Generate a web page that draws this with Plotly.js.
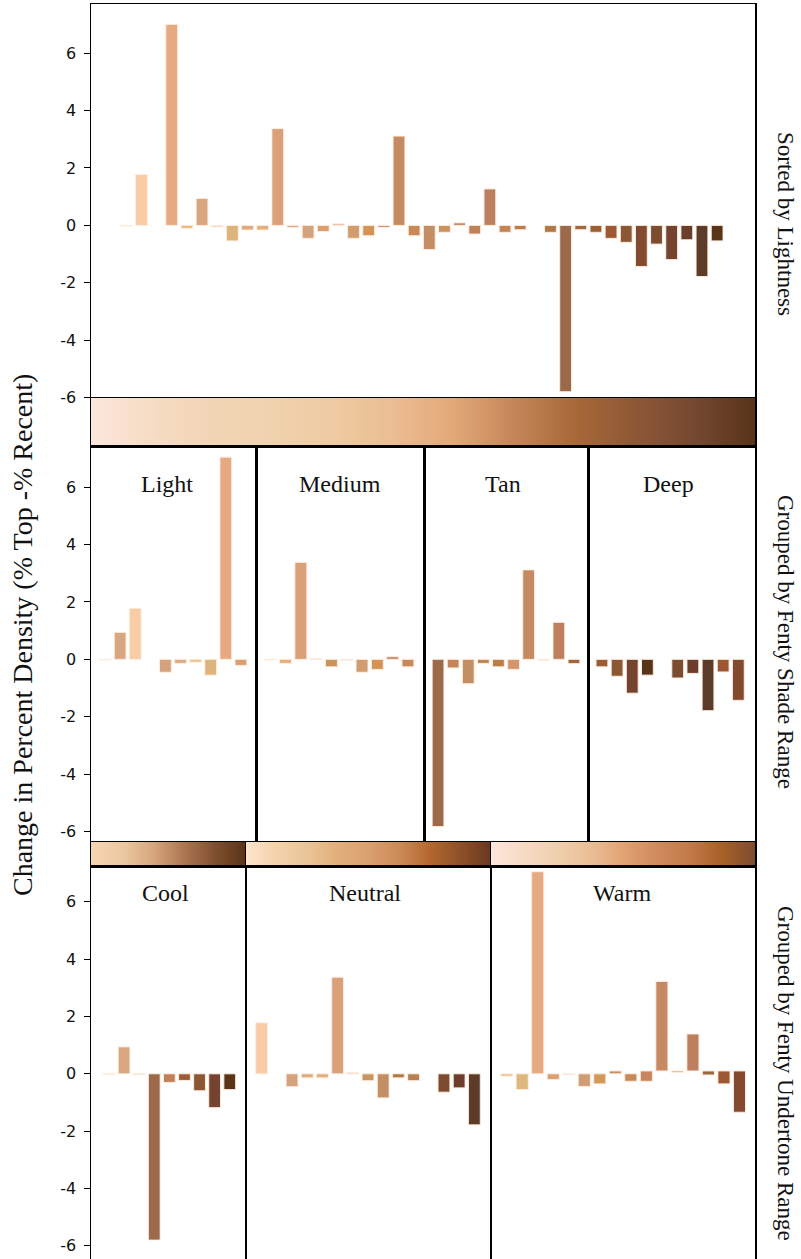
<!DOCTYPE html>
<html>
<head>
<meta charset="utf-8">
<script src="https://cdn.plot.ly/plotly-3.0.1.min.js"></script>
<style>html,body{margin:0;padding:0;background:#fff;}#chart{width:801px;height:1259px;}</style>
</head>
<body>
<div id="chart"></div>
<script>
// ---------- DATA ----------
// Sorted by lightness (null = empty slot)
const topVals = [-0.02, 1.77, null, 7.0, -0.1, 0.94, -0.05, -0.54, -0.16, -0.16, 3.37, -0.07, -0.45, -0.21, 0.06, -0.45, -0.36, -0.07, 3.11, -0.36, -0.84, -0.24, 0.09, -0.3, 1.27, -0.24, -0.15, null, -0.24, -5.79, -0.15, -0.24, -0.45, -0.59, -1.43, -0.65, -1.19, -0.5, -1.78, -0.54];
const topColors = ['#f9d4b6','#f8cca6',null,'#e6aa82','#e6b878','#d9a682','#e2b294','#dcb47c','#deaa7e','#e2b07e','#d9a07a','#dca282','#d4a27c','#dc9e6c','#e2b69c','#d29c70','#d49456','#cc906c','#c68a62','#c88858','#c48e64','#c89460','#c0845c','#c08058','#bc8060','#c48458','#b88048',null,'#b07848','#9a6a4a','#a06840','#9c5c34','#9c5830','#8c5834','#844a30','#7c4c30','#744430','#6c3c2c','#5c3c28','#583418'];

// Grouped by Fenty shade range
const shadeGroups = ['Light', 'Medium', 'Tan', 'Deep'];
const lightVals = [-0.02, 0.94, 1.78, null, -0.45, -0.14, -0.1, -0.55, 7.05, -0.21];
const lightColors = ['#f9d4b6','#d9a682','#f8cca6',null,'#d4a27c','#deaa7e','#ecc08e','#dcb47c','#e6aa82','#dc9e6c'];
const mediumVals = [-0.02, -0.14, 3.38, 0.03, -0.26, -0.03, -0.45, -0.35, 0.09, -0.26];
const mediumColors = ['#e8b898','#e2b07e','#d9a07a','#e2b094','#c8945c','#e4b094','#d29c70','#d49456','#c0845c','#c88858'];
const tanVals = [-5.83, -0.3, -0.85, -0.14, -0.26, -0.35, 3.12, -0.03, 1.29, -0.15];
const tanColors = ['#9a6a4a','#c48458','#c48e64','#b8884c','#b88048','#d4946c','#c68a62','#e0a078','#bc8060','#a06840'];
const deepVals = [-0.26, -0.59, -1.18, -0.55, null, -0.65, -0.49, -1.79, -0.44, -1.43];
const deepColors = ['#9c5c34','#8c5834','#744430','#583418',null,'#7c4c30','#6c3c2c','#5c3c28','#9c5830','#844a30'];

// Grouped by Fenty undertone range
const undertoneGroups = ['Cool', 'Neutral', 'Warm'];
const coolVals = [-0.03, 0.94, -0.03, -5.8, -0.3, -0.23, -0.59, -1.18, -0.55];
const coolColors = ['#f9d4b6','#d9a682','#e2b294','#9a6a4a','#c08058','#9c5c34','#8c5834','#744430','#583418'];
const neutralVals = [1.78, null, -0.45, -0.14, -0.14, 3.37, 0.04, -0.24, -0.84, -0.14, -0.24, null, -0.64, -0.49, -1.78];
const neutralColors = ['#f8cca6',null,'#d4a27c','#deaa7e','#e2b07e','#d9a07a','#e2b69c','#c89460','#c48e64','#b07848','#b88050',null,'#7c4c30','#6c3c2c','#5c3c28'];
const warmVals = [-0.08, -0.55, 7.05, -0.2, -0.03, -0.44, -0.35, 0.1, -0.26, -0.36, 3.12, -0.05, 1.29, -0.14, -0.45, -1.44];
const warmBase = [0, 0, 0, 0, 0, 0, 0, 0, 0, 0.1, 0.1, 0.1, 0.1, 0.1, 0.1, 0.1];
const warmColors = ['#e8c080','#dcb87c','#e6aa82','#dca070','#e6b896','#d09c74','#d49858','#c88c68','#c88858','#c8845c','#c68a62','#d09870','#bc8060','#9a6840','#9c5830','#844a30'];

// Colour gradient strips
const topGradient = ['#fbe6dc','#f6dcc4','#f2d5b4','#f0d2ae','#eecba2','#ebbd92','#e2a878','#c48658','#a86838','#8e5836','#744830','#583418'];
const coolGradient = ['#f8d4b0','#ecc8a2','#d6a67e','#ae7652','#80502e','#5a3418'];
const neutralGradient = ['#fce4cc','#f4d2aa','#eac498','#e2ae7a','#daa070','#cc8a56','#b46830','#8e5028','#6a3820'];
const warmGradient = ['#fbe6dc','#f6dac4','#f0cfae','#ebbe96','#e2a274','#d08a5c','#c27a4a','#a86028','#7c4c30'];

const yTickVals = [-6, -4, -2, 0, 2, 4, 6];
const yTickText = ['-6', '-4', '-2', '0', '2', '4', '6'];
const yTitle = 'Change in Percent Density (% Top -% Recent)';
const rowLabels = ['Sorted by Lightness', 'Grouped by Fenty Shade Range', 'Grouped by Fenty Undertone Range'];

// ---------- LAYOUT HELPERS ----------
const W = 801, H = 1259;
const xd = (a, b) => [a / W, b / W];
const yd = (a, b) => [Math.max(0, 1 - b / H), 1 - a / H];
const SERIF = 'Liberation Serif, Times New Roman, serif';
const SANS = 'DejaVu Sans, sans-serif';

function barTrace(vals, colors, ax, base) {
  const t = {
    type: 'bar',
    x: vals.map((v, i) => i),
    y: vals,
    width: 0.78,
    marker: {color: colors.map(c => c || '#ffffff'), line: {color: 'rgba(255,236,222,0.95)', width: 1}},
    xaxis: 'x' + ax, yaxis: 'y' + ax,
    hoverinfo: 'y', showlegend: false
  };
  if (base) t.base = base;
  return t;
}
function gradTrace(cols, ax) {
  const n = cols.length;
  return {
    type: 'heatmap',
    z: [cols.map((c, i) => i)],
    x: cols.map((c, i) => i),
    y: [0],
    colorscale: cols.map((c, i) => [i / (n - 1), c]),
    zsmooth: 'best', showscale: false, hoverinfo: 'skip',
    xaxis: 'x' + ax, yaxis: 'y' + ax
  };
}
function frameAxis(domain, range, anchor, extra) {
  return Object.assign({
    domain: domain, range: range, anchor: anchor,
    showline: true, mirror: true, linecolor: '#000', linewidth: 1.5,
    showgrid: false, zeroline: false, showticklabels: false, ticks: '', fixedrange: true
  }, extra || {});
}
const yTicksOn = {
  showticklabels: true, ticks: 'outside', ticklen: 6, tickwidth: 1, tickcolor: '#000',
  ticklabelstandoff: 4,
  tickvals: yTickVals, ticktext: yTickText, tickfont: {family: SANS, size: 16, color: '#111'}
};

// ---------- TRACES ----------
const data = [
  barTrace(topVals, topColors, ''),
  gradTrace(topGradient, '2'),
  barTrace(lightVals, lightColors, '3'),
  barTrace(mediumVals, mediumColors, '4'),
  barTrace(tanVals, tanColors, '5'),
  barTrace(deepVals, deepColors, '6'),
  gradTrace(coolGradient, '7'),
  gradTrace(neutralGradient, '8'),
  gradTrace(warmGradient, '9'),
  barTrace(coolVals, coolColors, '10'),
  barTrace(neutralVals, neutralColors, '11'),
  barTrace(warmVals, warmColors, '12', warmBase)
];

const rowTop = yd(4, 398), rowMid = yd(446, 842), rowBot = yd(866, 1262);
const yTop = [-6.01, 7.71], yMid = [-6.37, 7.44], yBot = [-6.46, 7.25];
const gRow = yd(842, 866);

const layout = {
  width: W, height: H,
  margin: {l: 0, r: 0, t: 0, b: 0},
  paper_bgcolor: '#fff', plot_bgcolor: '#fff',
  showlegend: false, bargap: 0,
  xaxis: frameAxis(xd(91, 755), [-2.33, 41.5], 'y'),
  yaxis: frameAxis(rowTop, yTop, 'x', yTicksOn),
  xaxis2: frameAxis(xd(91, 755), [0, topGradient.length - 1], 'y2'),
  yaxis2: frameAxis(yd(398, 446), [-0.5, 0.5], 'x2'),
  xaxis3: frameAxis(xd(91, 256), [-0.93, 10.0], 'y3'),
  yaxis3: frameAxis(rowMid, yMid, 'x3', yTicksOn),
  xaxis4: frameAxis(xd(256, 424), [-0.93, 10.05], 'y4'),
  yaxis4: frameAxis(rowMid, yMid, 'x4'),
  xaxis5: frameAxis(xd(424, 588), [-0.93, 9.93], 'y5'),
  yaxis5: frameAxis(rowMid, yMid, 'x5'),
  xaxis6: frameAxis(xd(588, 755), [-0.92, 10.1], 'y6'),
  yaxis6: frameAxis(rowMid, yMid, 'x6'),
  xaxis7: frameAxis(xd(91, 245), [0, coolGradient.length - 1], 'y7'),
  yaxis7: frameAxis(gRow, [-0.5, 0.5], 'x7'),
  xaxis8: frameAxis(xd(246, 490), [0, neutralGradient.length - 1], 'y8'),
  yaxis8: frameAxis(gRow, [-0.5, 0.5], 'x8'),
  xaxis9: frameAxis(xd(491, 755), [0, warmGradient.length - 1], 'y9'),
  yaxis9: frameAxis(gRow, [-0.5, 0.5], 'x9'),
  xaxis10: frameAxis(xd(91, 245), [-1.19, 9.01], 'y10'),
  yaxis10: frameAxis(rowBot, yBot, 'x10', yTicksOn),
  xaxis11: frameAxis(xd(246, 490), [-1.03, 15.03], 'y11'),
  yaxis11: frameAxis(rowBot, yBot, 'x11'),
  xaxis12: frameAxis(xd(491, 755), [-1.01, 16.0], 'y12'),
  yaxis12: frameAxis(rowBot, yBot, 'x12'),
  annotations: []
};

const ann = (text, px, py, size, angle) => ({
  text: text, xref: 'paper', yref: 'paper', x: px / W, y: 1 - py / H,
  xanchor: 'center', yanchor: 'middle', showarrow: false, textangle: angle || 0,
  font: {family: SERIF, size: size, color: '#111'}
});
// panel titles
const shadeCenters = [167, 340, 503, 668];
shadeGroups.forEach((g, i) => layout.annotations.push(ann(g, shadeCenters[i], 484, 24)));
const toneCenters = [165, 365, 622];
undertoneGroups.forEach((g, i) => layout.annotations.push(ann(g, toneCenters[i], 893, 24)));
// axis title and row labels
layout.annotations.push(ann(yTitle, 22, 635, 28, -90));
const rowLabelY = [224, 642, 1073];
rowLabels.forEach((t, i) => layout.annotations.push(ann(t, 786, rowLabelY[i], 23, 90)));

Plotly.newPlot('chart', data, layout, {staticPlot: true});
</script>
</body>
</html>
